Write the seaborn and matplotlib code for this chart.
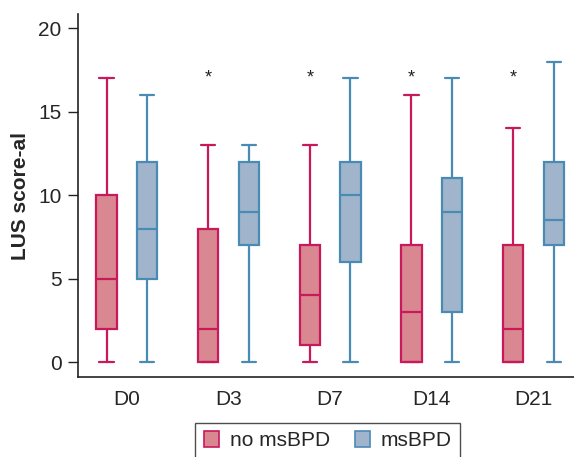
import numpy as np
import pandas as pd
import seaborn as sns
import matplotlib
matplotlib.use("Agg")
import matplotlib.pyplot as plt
from matplotlib.patches import Patch

# Five-number summaries (min, Q1, median, Q3, max)
days = ["D0", "D3", "D7", "D14", "D21"]
groups = ["no msBPD", "msBPD"]
no_msbpd = {
    "D0": [0, 2, 5, 10, 17],
    "D3": [0, 0, 2, 8, 13],
    "D7": [0, 1, 4, 7, 13],
    "D14": [0, 0, 3, 7, 16],
    "D21": [0, 0, 2, 7, 14],
}
msbpd = {
    "D0": [0, 5, 8, 12, 16],
    "D3": [0, 7, 9, 12, 13],
    "D7": [0, 6, 10, 12, 17],
    "D14": [0, 3, 9, 11, 17],
    "D21": [0, 7, 8.5, 12, 18],
}
star_days = ["D3", "D7", "D14", "D21"]
star_y = 17

fill_colors = {"no msBPD": "#D98891", "msBPD": "#A0B5CB"}
edge_colors = {"no msBPD": "#C8195B", "msBPD": "#4A8BB6"}

rows = []
for d in days:
    for v in no_msbpd[d]:
        rows.append({"day": d, "group": "no msBPD", "score": v})
    for v in msbpd[d]:
        rows.append({"day": d, "group": "msBPD", "score": v})
df = pd.DataFrame(rows)

sns.set_theme(style="ticks")
plt.rcParams["font.family"] = ["Liberation Sans", "DejaVu Sans"]

fig = plt.figure(figsize=(5.74, 4.57), dpi=100)
ax = fig.add_axes([0.136, 0.175, 0.864, 0.794])

sns.boxplot(data=df, x="day", y="score", hue="group", order=days,
            hue_order=groups, palette=fill_colors, whis=(0, 100),
            width=0.8, gap=0.5, linewidth=1.6, saturation=1,
            showfliers=False, legend=False, ax=ax, capwidths=0.14)

# recolor edges by hue position
for p in ax.patches:
    verts = p.get_path().vertices
    xm = np.mean(verts[:, 0])
    g = "no msBPD" if xm < np.round(xm) else "msBPD"
    p.set_edgecolor(edge_colors[g])
    p.set_facecolor(fill_colors[g])
for ln in ax.lines:
    xd = np.asarray(ln.get_xdata(), dtype=float)
    if xd.size == 0:
        continue
    xm = np.mean(xd)
    g = "no msBPD" if xm < np.round(xm) else "msBPD"
    ln.set_color(edge_colors[g])

for d in star_days:
    i = days.index(d)
    ax.text(i - 0.2, star_y, "*", ha="center", va="center", fontsize=13,
            color="#222222")

ax.set_xlim(-0.48, 4.40)
ax.set_ylim(-0.9, 20.85)
ax.set_yticks([0, 5, 10, 15, 20])
ax.set_xlabel("")
ax.set_ylabel("LUS score-al", fontsize=15, fontweight="bold", labelpad=6)
ax.tick_params(axis="y", labelsize=15, length=7, width=1, color="#222222", pad=5)
ax.tick_params(axis="x", labelsize=15, length=0, pad=9)
for s in ["top", "right"]:
    ax.spines[s].set_visible(False)
for s in ["left", "bottom"]:
    ax.spines[s].set_linewidth(1.2)
    ax.spines[s].set_color("#222222")

handles = [Patch(facecolor=fill_colors[g], edgecolor=edge_colors[g], linewidth=1.2, label=g)
           for g in groups]
leg = fig.legend(handles=handles, loc="upper center", bbox_to_anchor=(0.571, 1 - 423 / 457),
                 ncol=2, frameon=True, fancybox=False, fontsize=15,
                 handlelength=0.75, handleheight=0.75, handletextpad=0.5,
                 columnspacing=1.2, borderpad=0.4, borderaxespad=0)
leg.get_frame().set_edgecolor("#222222")
leg.get_frame().set_linewidth(1.0)

fig.savefig("out.png", dpi=100)
